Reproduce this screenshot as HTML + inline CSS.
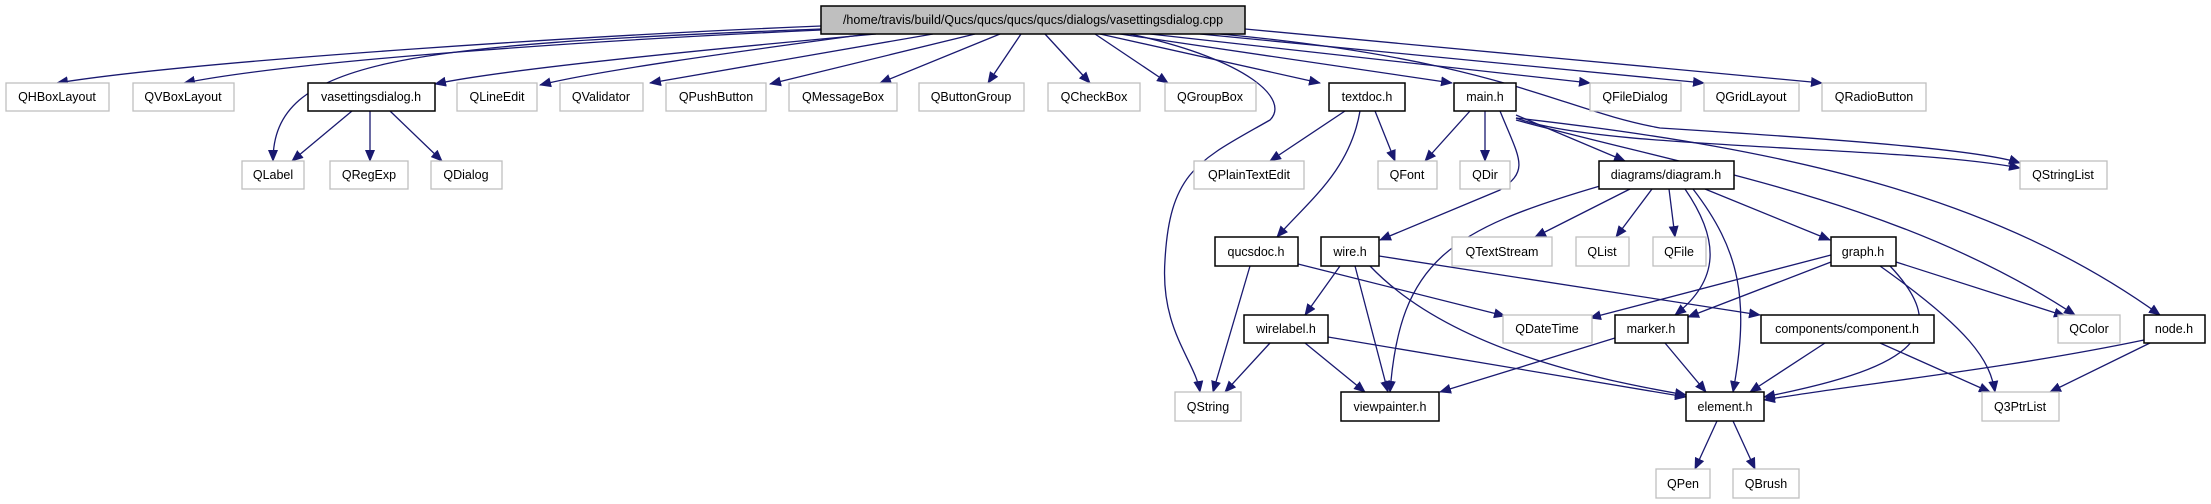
<!DOCTYPE html>
<html><head><meta charset="utf-8"><style>
body{margin:0;background:#fff}
svg{display:block}
text{font-family:"Liberation Sans",sans-serif;font-size:12.5px;text-anchor:middle;fill:#000}
.g{fill:#fff;stroke:#bfbfbf;stroke-width:1.3}
.b{fill:#fff;stroke:#000;stroke-width:1.5}
.e{fill:none;stroke:#191970;stroke-width:1.3;marker-end:url(#a)}
</style></head><body>
<svg width="2211" height="504" viewBox="0 0 2211 504" xmlns="http://www.w3.org/2000/svg">
<defs><marker id="a" markerUnits="userSpaceOnUse" markerWidth="12" markerHeight="10" refX="11" refY="5" orient="auto"><path d="M0,0 L12,5 L0,10 z" fill="#191970"/></marker></defs>
<g>
<path class="e" d="M821,26 C600,35 200,60 57,83"/>
<path class="e" d="M821,30 C600,40 300,60 184,83"/>
<path class="e" d="M821,29 C400,45 273,60 273,161"/>
<path class="e" d="M876,34 C700,50 500,70 435,84"/>
<path class="e" d="M868,34 C750,50 600,70 540,85"/>
<path class="e" d="M933,34 L650,83"/>
<path class="e" d="M975,34 L770,84"/>
<path class="e" d="M1000,34 L880,83"/>
<path class="e" d="M1021,34 L988,83"/>
<path class="e" d="M1045,34 L1090,83"/>
<path class="e" d="M1095,34 L1168,83"/>
<path class="e" d="M1130,34 C1250,60 1290,100 1270,120 C1200,160 1170,170 1165,260 C1160,330 1195,360 1200,392"/>
<path class="e" d="M1100,34 L1320,83"/>
<path class="e" d="M1120,34 L1452,83"/>
<path class="e" d="M1150,34 L1590,83"/>
<path class="e" d="M1200,34 L1704,83"/>
<path class="e" d="M1245,29 L1822,83"/>
<path class="e" d="M1220,34 C1500,60 1560,110 1660,128 C1850,140 1980,150 2020,163"/>
<path class="e" d="M352,111 L292,161"/>
<path class="e" d="M370,111 L370,161"/>
<path class="e" d="M390,111 L442,161"/>
<path class="e" d="M1345,111 L1270,161"/>
<path class="e" d="M1375,111 L1395,161"/>
<path class="e" d="M1360,111 C1350,170 1310,200 1277,237"/>
<path class="e" d="M1470,111 L1425,161"/>
<path class="e" d="M1485,111 L1485,161"/>
<path class="e" d="M1500,111 C1520,160 1530,170 1500,190 L1380,240"/>
<path class="e" d="M1516,115 L1625,161"/>
<path class="e" d="M1516,118 C1600,150 1900,145 2020,168"/>
<path class="e" d="M1516,120 C1700,170 1900,200 2075,315"/>
<path class="e" d="M1516,118 C1800,150 2000,200 2160,315"/>
<path class="e" d="M1600,186 C1450,230 1400,260 1390,392"/>
<path class="e" d="M1630,189 L1535,237"/>
<path class="e" d="M1652,189 L1616,237"/>
<path class="e" d="M1669,189 L1675,237"/>
<path class="e" d="M1685,189 C1720,240 1720,280 1675,315"/>
<path class="e" d="M1693,189 C1740,250 1750,300 1733,392"/>
<path class="e" d="M1705,189 L1830,240"/>
<path class="e" d="M1250,266 L1213,392"/>
<path class="e" d="M1298,264 L1505,316"/>
<path class="e" d="M1340,266 L1305,315"/>
<path class="e" d="M1355,266 L1388,392"/>
<path class="e" d="M1370,266 C1450,350 1600,380 1686,395"/>
<path class="e" d="M1379,256 L1760,315"/>
<path class="e" d="M1831,255 L1590,318"/>
<path class="e" d="M1831,262 L1688,317"/>
<path class="e" d="M1896,262 L2065,316"/>
<path class="e" d="M1890,266 C1960,340 1900,370 1764,397"/>
<path class="e" d="M1880,266 C1970,330 1990,360 1995,392"/>
<path class="e" d="M1270,343 L1225,392"/>
<path class="e" d="M1305,343 L1365,392"/>
<path class="e" d="M1328,337 L1686,397"/>
<path class="e" d="M1615,338 L1440,392"/>
<path class="e" d="M1665,343 L1706,392"/>
<path class="e" d="M1825,343 L1750,392"/>
<path class="e" d="M1880,343 L1990,392"/>
<path class="e" d="M2144,340 C2000,370 1850,385 1764,400"/>
<path class="e" d="M2150,343 L2050,392"/>
<path class="e" d="M1717,421 L1695,469"/>
<path class="e" d="M1733,421 L1755,469"/>
</g>
<rect x="821" y="6" width="424" height="28" fill="#bfbfbf" stroke="#000" stroke-width="1.5"/><text x="1033" y="24">/home/travis/build/Qucs/qucs/qucs/qucs/dialogs/vasettingsdialog.cpp</text>
<rect class="g" x="6" y="83" width="103" height="28"/><text x="57" y="101">QHBoxLayout</text>
<rect class="g" x="133" y="83" width="101" height="28"/><text x="183" y="101">QVBoxLayout</text>
<rect class="b" x="308" y="83" width="127" height="28"/><text x="371" y="101">vasettingsdialog.h</text>
<rect class="g" x="457" y="83" width="80" height="28"/><text x="497" y="101">QLineEdit</text>
<rect class="g" x="560" y="83" width="83" height="28"/><text x="601" y="101">QValidator</text>
<rect class="g" x="666" y="83" width="100" height="28"/><text x="716" y="101">QPushButton</text>
<rect class="g" x="789" y="83" width="108" height="28"/><text x="843" y="101">QMessageBox</text>
<rect class="g" x="919" y="83" width="105" height="28"/><text x="971" y="101">QButtonGroup</text>
<rect class="g" x="1048" y="83" width="92" height="28"/><text x="1094" y="101">QCheckBox</text>
<rect class="g" x="1165" y="83" width="91" height="28"/><text x="1210" y="101">QGroupBox</text>
<rect class="b" x="1329" y="83" width="76" height="28"/><text x="1367" y="101">textdoc.h</text>
<rect class="b" x="1454" y="83" width="62" height="28"/><text x="1485" y="101">main.h</text>
<rect class="g" x="1590" y="83" width="91" height="28"/><text x="1635" y="101">QFileDialog</text>
<rect class="g" x="1704" y="83" width="95" height="28"/><text x="1751" y="101">QGridLayout</text>
<rect class="g" x="1822" y="83" width="104" height="28"/><text x="1874" y="101">QRadioButton</text>
<rect class="g" x="242" y="161" width="62" height="28"/><text x="273" y="179">QLabel</text>
<rect class="g" x="330" y="161" width="78" height="28"/><text x="369" y="179">QRegExp</text>
<rect class="g" x="431" y="161" width="71" height="28"/><text x="466" y="179">QDialog</text>
<rect class="g" x="1194" y="161" width="110" height="28"/><text x="1249" y="179">QPlainTextEdit</text>
<rect class="g" x="1378" y="161" width="59" height="28"/><text x="1407" y="179">QFont</text>
<rect class="g" x="1460" y="161" width="50" height="28"/><text x="1485" y="179">QDir</text>
<rect class="b" x="1599" y="161" width="135" height="28"/><text x="1666" y="179">diagrams/diagram.h</text>
<rect class="g" x="2020" y="161" width="87" height="28"/><text x="2063" y="179">QStringList</text>
<rect class="b" x="1215" y="237" width="83" height="29"/><text x="1256" y="256">qucsdoc.h</text>
<rect class="b" x="1321" y="237" width="58" height="29"/><text x="1350" y="256">wire.h</text>
<rect class="g" x="1452" y="237" width="100" height="29"/><text x="1502" y="256">QTextStream</text>
<rect class="g" x="1576" y="237" width="53" height="29"/><text x="1602" y="256">QList</text>
<rect class="g" x="1653" y="237" width="53" height="29"/><text x="1679" y="256">QFile</text>
<rect class="b" x="1831" y="237" width="65" height="29"/><text x="1863" y="256">graph.h</text>
<rect class="b" x="1244" y="315" width="84" height="28"/><text x="1286" y="333">wirelabel.h</text>
<rect class="g" x="1503" y="315" width="89" height="28"/><text x="1547" y="333">QDateTime</text>
<rect class="b" x="1615" y="315" width="73" height="28"/><text x="1651" y="333">marker.h</text>
<rect class="b" x="1761" y="315" width="173" height="28"/><text x="1847" y="333">components/component.h</text>
<rect class="g" x="2058" y="315" width="62" height="28"/><text x="2089" y="333">QColor</text>
<rect class="b" x="2144" y="315" width="61" height="28"/><text x="2174" y="333">node.h</text>
<rect class="g" x="1175" y="392" width="66" height="29"/><text x="1208" y="411">QString</text>
<rect class="b" x="1341" y="392" width="98" height="29"/><text x="1390" y="411">viewpainter.h</text>
<rect class="b" x="1686" y="392" width="78" height="29"/><text x="1725" y="411">element.h</text>
<rect class="g" x="1982" y="392" width="77" height="29"/><text x="2020" y="411">Q3PtrList</text>
<rect class="g" x="1656" y="469" width="54" height="29"/><text x="1683" y="488">QPen</text>
<rect class="g" x="1733" y="469" width="66" height="29"/><text x="1766" y="488">QBrush</text>
</svg>
</body></html>
